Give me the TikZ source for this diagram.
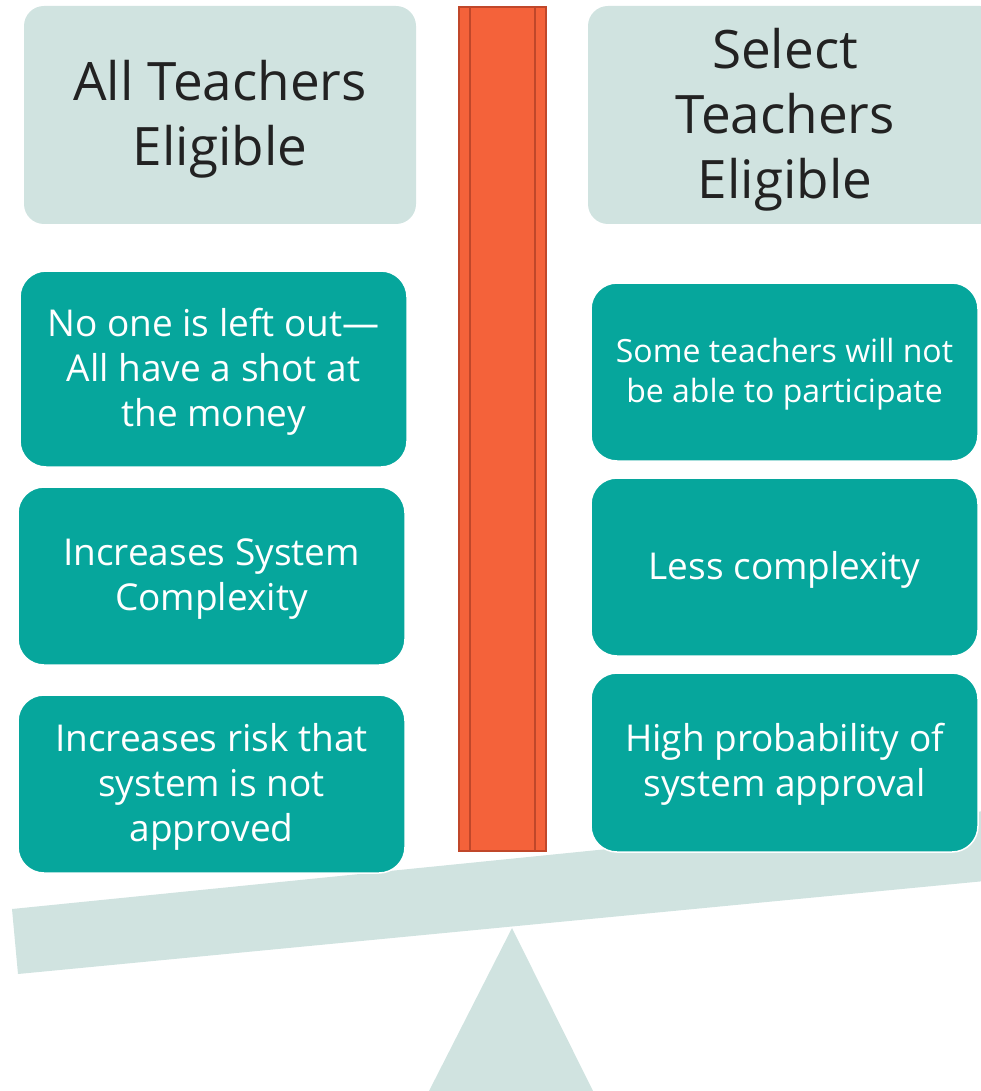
\documentclass[tikz,border=0pt]{standalone}
\usepackage{fontspec}
\setmainfont{Open Sans}
\definecolor{pale}{HTML}{D0E3E0}
\definecolor{teal}{HTML}{06A69C}
\definecolor{bar}{HTML}{F4623A}
\definecolor{baredge}{HTML}{C0472A}
\definecolor{ink}{HTML}{222222}
\tikzset{
  header/.style={fill=pale, rounded corners=20pt, draw=none},
  pro/.style={fill=teal, draw=white, line width=1.5pt, rounded corners=26pt},
  head text/.style={text=ink, align=center, font=\fontsize{53}{65}\selectfont},
  box text/.style={text=white, align=center, font=\fontsize{37}{45}\selectfont},
}
\begin{document}
\begin{tikzpicture}[x=1pt,y=-1pt]
\useasboundingbox (0,0) rectangle (980,1091);
% beam and fulcrum
\fill[pale] (12,909) -- (985,811) -- (985,881) -- (18,974) -- cycle;
\fill[pale] (512,928) -- (593,1091) -- (429,1091) -- cycle;
% headers
\path[header] (24,6) rectangle (416,224);
\path[header] (588,6) rectangle (1000,224);
\node[head text] (hl) at (220,119) {All Teachers\\Eligible};
\node[head text] (hr) at (785,120) {Select\\Teachers\\Eligible};
% central bar
\path[fill=bar, draw=baredge, line width=2pt] (459,7) rectangle (546,851);
\draw[baredge, line width=2pt] (470,7) -- (470,851);
\draw[baredge, line width=2pt] (535,7) -- (535,851);
% left boxes
\path[pro] (20,271) rectangle (407,467);
\node[box text] (l1) at (213.5,372) {No one is left out—\\All have a shot at\\the money};
\path[pro] (18,487) rectangle (405,665);
\node[box text] (l2) at (211.5,579.5) {Increases System\\Complexity};
\path[pro] (18,695) rectangle (405,873);
\node[box text] (l3) at (211.5,787) {Increases risk that\\system is not\\approved};
% right boxes
\path[pro] (591,283) rectangle (978,461);
\node[box text, font=\fontsize{32}{40}\selectfont] (r1) at (784.5,374) {Some teachers will not\\be able to participate};
\path[pro] (591,478) rectangle (978,656);
\node[box text] (r2) at (784.5,570) {Less complexity};
\path[pro] (591,673) rectangle (978,852);
\node[box text] (r3) at (784.5,764.5) {High probability of\\system approval};
\end{tikzpicture}
\end{document}
